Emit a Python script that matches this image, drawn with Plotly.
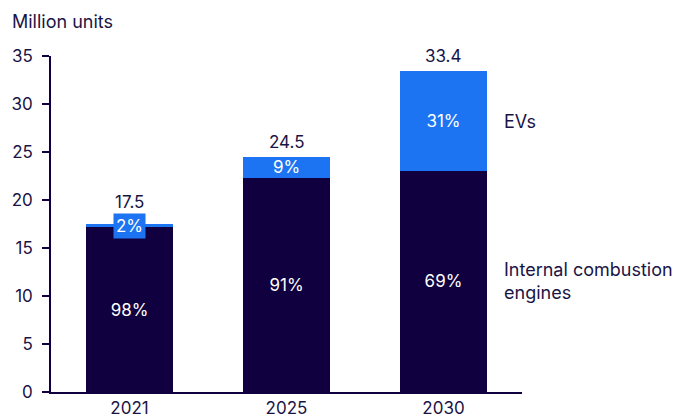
import plotly.graph_objects as go

years = ["2021", "2025", "2030"]
ice_units = [17.15, 22.3, 23.05]
ev_units = [0.35, 2.2, 10.35]
totals = ["17.5", "24.5", "33.4"]
ice_share = ["98%", "91%", "69%"]
ev_share = ["2%", "9%", "31%"]

navy = "#10003f"
blue = "#1c74f2"
ink = "#1a1446"
font_family = "Inter, sans-serif"
fs = 18

fig = go.Figure()

fig.add_trace(go.Bar(
    x=years, y=ice_units, name="Internal combustion engines",
    marker=dict(color=navy, line=dict(width=0)),
    text=ice_share, textposition="inside", insidetextanchor="middle",
    textangle=0, constraintext="none",
    textfont=dict(color="white", size=fs - 1, family=font_family),
))

# thin 2021 segment gets its label as a boxed annotation instead
ev_text = [t if v > 1 else "" for t, v in zip(ev_share, ev_units)]
fig.add_trace(go.Bar(
    x=years, y=ev_units, name="EVs",
    marker=dict(color=blue, line=dict(width=0)),
    text=ev_text, textposition="inside", insidetextanchor="middle",
    textangle=0, constraintext="none",
    textfont=dict(color="white", size=fs - 1, family=font_family),
))

for i, (ice, ev, share) in enumerate(zip(ice_units, ev_units, ev_share)):
    if ev <= 1:
        fig.add_annotation(x=i, y=ice + ev / 2, text=share, showarrow=False,
                           bgcolor=blue, borderpad=2,
                           font=dict(color="white", size=fs - 1, family=font_family))

for i, (ice, ev, lab) in enumerate(zip(ice_units, ev_units, totals)):
    fig.add_annotation(x=i, y=ice + ev, text=lab, showarrow=False,
                       yanchor="bottom", yshift=10 if ev <= 1 else 3,
                       font=dict(color=ink, size=fs - 1, family=font_family))

# series labels to the right of the last bar
last = len(years) - 1
fig.add_annotation(x=last + 0.37, y=ice_units[last] + ev_units[last] / 2, text="EVs",
                   showarrow=False, xanchor="left", align="left",
                   font=dict(color=ink, size=fs, family=font_family))
fig.add_annotation(x=last + 0.37, y=ice_units[last] / 2, text="Internal combustion<br>engines",
                   showarrow=False, xanchor="left", align="left",
                   font=dict(color=ink, size=fs, family=font_family))

fig.add_annotation(x=0, xref="paper", xanchor="left", xshift=-41,
                   y=1, yref="paper", yanchor="bottom", yshift=22,
                   text="Million units", showarrow=False,
                   font=dict(color=ink, size=fs, family=font_family))

fig.update_layout(
    barmode="stack", bargap=0.446, showlegend=False,
    width=685, height=417,
    margin=dict(l=43, r=171, t=48, b=33, autoexpand=False),
    paper_bgcolor="white", plot_bgcolor="white",
    font=dict(family=font_family, color=ink, size=fs),
)
fig.update_xaxes(type="category", range=[-0.5, 2.5], showline=True, linecolor=navy,
                 linewidth=1.5, ticks="", tickfont=dict(size=fs - 1, color=ink),
                 showgrid=False, automargin=False)
fig.update_yaxes(range=[0, 35], dtick=5, showline=True, linecolor=navy, linewidth=1.5,
                 ticks="outside", ticklen=7, tickcolor=navy, tickwidth=1.5,
                 ticklabelstandoff=6, tickfont=dict(size=fs - 1, color=ink),
                 showgrid=False, zeroline=False, automargin=False)

fig.write_html("out.html")
